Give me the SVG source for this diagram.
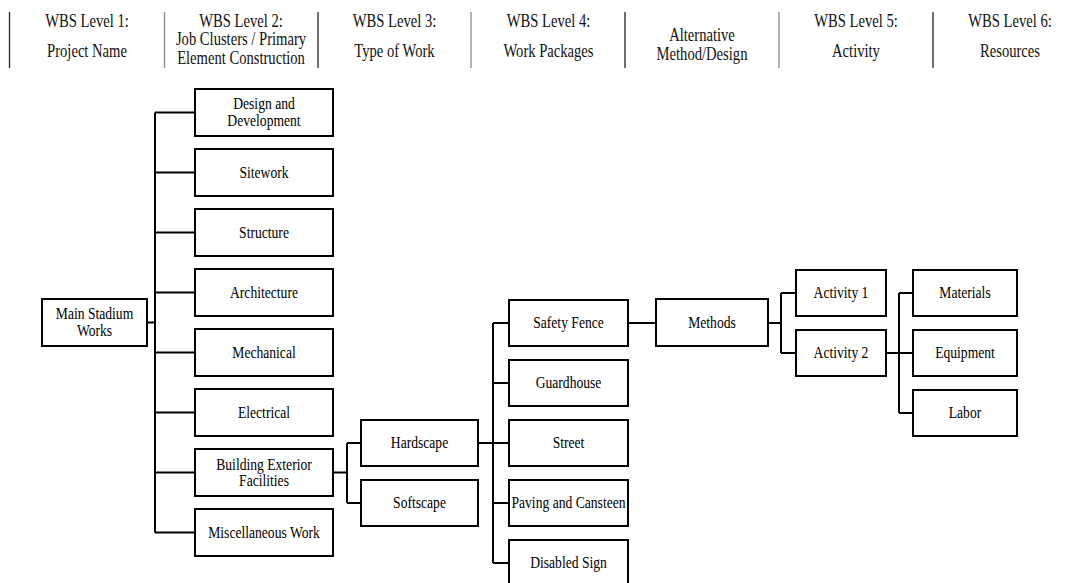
<svg xmlns="http://www.w3.org/2000/svg" width="1077" height="583" viewBox="0 0 1077 583">
<style>
.bg{fill:#fff}
.box{fill:#fff;stroke:#000;stroke-width:2}
.con{fill:none;stroke:#000;stroke-width:2}
.sep{stroke:#222;stroke-width:1.3}
.sepg{stroke:#888;stroke-width:1.3}
text{font-family:"Liberation Serif","Times New Roman",serif;fill:#000;text-anchor:middle}
.t{font-size:16.5px}
.h{font-size:18.5px;fill:#111}
</style>
<rect class="bg" x="0" y="0" width="1077" height="583"/>
<g id="header">
<line class="sep" x1="9.5" y1="12" x2="9.5" y2="68"/>
<line class="sepg" x1="164.5" y1="12" x2="164.5" y2="68"/>
<line class="sep" x1="318" y1="12" x2="318" y2="68"/>
<line class="sepg" x1="471" y1="12" x2="471" y2="68"/>
<line class="sep" x1="625" y1="12" x2="625" y2="68"/>
<line class="sepg" x1="779" y1="12" x2="779" y2="68"/>
<line class="sep" x1="933" y1="12" x2="933" y2="68"/>
<text class="h" transform="matrix(0.79 0 0 1 87 0)" y="27">WBS Level 1:</text>
<text class="h" transform="matrix(0.79 0 0 1 87 0)" y="57">Project Name</text>
<text class="h" transform="matrix(0.79 0 0 1 241 0)" y="27">WBS Level 2:</text>
<text class="h" transform="matrix(0.79 0 0 1 241 0)" y="45">Job Clusters / Primary</text>
<text class="h" transform="matrix(0.79 0 0 1 241 0)" y="64">Element Construction</text>
<text class="h" transform="matrix(0.79 0 0 1 394.5 0)" y="27">WBS Level 3:</text>
<text class="h" transform="matrix(0.79 0 0 1 394.5 0)" y="57">Type of Work</text>
<text class="h" transform="matrix(0.79 0 0 1 548.5 0)" y="27">WBS Level 4:</text>
<text class="h" transform="matrix(0.79 0 0 1 548.5 0)" y="57">Work Packages</text>
<text class="h" transform="matrix(0.79 0 0 1 702 0)" y="41">Alternative</text>
<text class="h" transform="matrix(0.79 0 0 1 702 0)" y="60">Method/Design</text>
<text class="h" transform="matrix(0.79 0 0 1 856 0)" y="27">WBS Level 5:</text>
<text class="h" transform="matrix(0.79 0 0 1 856 0)" y="57">Activity</text>
<text class="h" transform="matrix(0.79 0 0 1 1010 0)" y="27">WBS Level 6:</text>
<text class="h" transform="matrix(0.79 0 0 1 1010 0)" y="57">Resources</text>
</g>
<g id="connectors">
<path class="con" d="M147 322.5H155M155 112.5V532.5M155 112.5H195M155 172.5H195M155 232.5H195M155 292.5H195M155 352.5H195M155 412.5H195M155 472.5H195M155 532.5H195"/>
<path class="con" d="M333 472.5H347M347 443V503M347 443H361M347 503H361"/>
<path class="con" d="M478 443H509M493 323V563M493 323H509M493 383H509M493 503H509M493 563H509"/>
<path class="con" d="M628 323H656"/>
<path class="con" d="M768 323H781M781 293V353M781 293H796M781 353H796"/>
<path class="con" d="M886 353H913M899 293V413M899 293H913M899 413H913"/>
</g>
<g id="n-main"><rect class="box" x="42" y="299" width="105" height="47"/>
<text class="t" transform="matrix(0.825 0 0 1 94.5 0)" y="319.5">Main Stadium</text>
<text class="t" transform="matrix(0.825 0 0 1 94.5 0)" y="336">Works</text></g>
<g id="n-design"><rect class="box" x="195" y="89" width="138" height="47"/>
<text class="t" transform="matrix(0.825 0 0 1 264 0)" y="109.3">Design and</text>
<text class="t" transform="matrix(0.825 0 0 1 264 0)" y="125.7">Development</text></g>
<g id="n-sitework"><rect class="box" x="195" y="149" width="138" height="47"/>
<text class="t" transform="matrix(0.825 0 0 1 264 0)" y="178">Sitework</text></g>
<g id="n-structure"><rect class="box" x="195" y="209" width="138" height="47"/>
<text class="t" transform="matrix(0.825 0 0 1 264 0)" y="238">Structure</text></g>
<g id="n-architecture"><rect class="box" x="195" y="269" width="138" height="47"/>
<text class="t" transform="matrix(0.825 0 0 1 264 0)" y="298">Architecture</text></g>
<g id="n-mechanical"><rect class="box" x="195" y="329" width="138" height="47"/>
<text class="t" transform="matrix(0.825 0 0 1 264 0)" y="358">Mechanical</text></g>
<g id="n-electrical"><rect class="box" x="195" y="389" width="138" height="47"/>
<text class="t" transform="matrix(0.825 0 0 1 264 0)" y="418">Electrical</text></g>
<g id="n-building"><rect class="box" x="195" y="449" width="138" height="47"/>
<text class="t" transform="matrix(0.825 0 0 1 264 0)" y="470">Building Exterior</text>
<text class="t" transform="matrix(0.825 0 0 1 264 0)" y="486">Facilities</text></g>
<g id="n-misc"><rect class="box" x="195" y="509" width="138" height="47"/>
<text class="t" transform="matrix(0.825 0 0 1 264 0)" y="538">Miscellaneous Work</text></g>
<g id="n-hardscape"><rect class="box" x="361" y="420" width="117" height="46"/>
<text class="t" transform="matrix(0.825 0 0 1 419.5 0)" y="448.5">Hardscape</text></g>
<g id="n-softscape"><rect class="box" x="361" y="480" width="117" height="46"/>
<text class="t" transform="matrix(0.825 0 0 1 419.5 0)" y="508.5">Softscape</text></g>
<g id="n-safety"><rect class="box" x="509" y="300" width="119" height="46"/>
<text class="t" transform="matrix(0.825 0 0 1 568.5 0)" y="328.5">Safety Fence</text></g>
<g id="n-guardhouse"><rect class="box" x="509" y="360" width="119" height="46"/>
<text class="t" transform="matrix(0.825 0 0 1 568.5 0)" y="388.5">Guardhouse</text></g>
<g id="n-street"><rect class="box" x="509" y="420" width="119" height="46"/>
<text class="t" transform="matrix(0.825 0 0 1 568.5 0)" y="448.5">Street</text></g>
<g id="n-paving"><rect class="box" x="509" y="480" width="119" height="46"/>
<text class="t" transform="matrix(0.825 0 0 1 568.5 0)" y="508.5">Paving and Cansteen</text></g>
<g id="n-disabled"><rect class="box" x="509" y="540" width="119" height="46"/>
<text class="t" transform="matrix(0.825 0 0 1 568.5 0)" y="568.5">Disabled Sign</text></g>
<g id="n-methods"><rect class="box" x="656" y="299" width="112" height="47"/>
<text class="t" transform="matrix(0.825 0 0 1 712 0)" y="328.5">Methods</text></g>
<g id="n-activity1"><rect class="box" x="796" y="270" width="90" height="46"/>
<text class="t" transform="matrix(0.825 0 0 1 841 0)" y="298.5">Activity 1</text></g>
<g id="n-activity2"><rect class="box" x="796" y="330" width="90" height="46"/>
<text class="t" transform="matrix(0.825 0 0 1 841 0)" y="358.5">Activity 2</text></g>
<g id="n-materials"><rect class="box" x="913" y="270" width="104" height="46"/>
<text class="t" transform="matrix(0.825 0 0 1 965 0)" y="298.5">Materials</text></g>
<g id="n-equipment"><rect class="box" x="913" y="330" width="104" height="46"/>
<text class="t" transform="matrix(0.825 0 0 1 965 0)" y="358.5">Equipment</text></g>
<g id="n-labor"><rect class="box" x="913" y="390" width="104" height="46"/>
<text class="t" transform="matrix(0.825 0 0 1 965 0)" y="418.5">Labor</text></g>
</svg>
